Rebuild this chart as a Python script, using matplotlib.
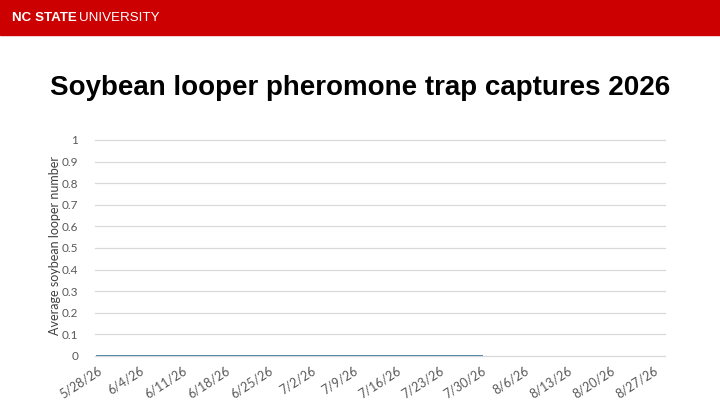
import matplotlib.pyplot as plt
import numpy as np

dates = ["5/28/26", "6/4/26", "6/11/26", "6/18/26", "6/25/26", "7/2/26", "7/9/26",
         "7/16/26", "7/23/26", "7/30/26", "8/6/26", "8/13/26", "8/20/26", "8/27/26"]
# avg loopers per trap, no data yet after 7/30
avg_loopers = [0, 0, 0, 0, 0, 0, 0, 0, 0, 0, np.nan, np.nan, np.nan, np.nan]
yticks = [0, 0.1, 0.2, 0.3, 0.4, 0.5, 0.6, 0.7, 0.8, 0.9, 1]

fig = plt.figure(figsize=(7.2, 4.05), dpi=100)

# red banner on top
fig.patches.append(plt.Rectangle((0, 1 - 35 / 405), 1, 35 / 405, transform=fig.transFigure,
                                 color="#CC0000", zorder=0))
t = fig.text(12 / 720, 1 - 18 / 405, "NC STATE", color="white", fontsize=9.6,
             fontweight="bold", family="Liberation Sans", va="center")
fig.canvas.draw()
bb = t.get_window_extent()
fig.text((bb.x1 + 2) / 720, 1 - 18 / 405, "UNIVERSITY", color="white", fontsize=9.6,
         family="Liberation Sans", va="center")

fig.text(0.5, 1 - 88 / 405, "Soybean looper pheromone trap captures 2026", ha="center",
         va="center", fontsize=20, fontweight="bold", family="Liberation Sans")

ax = fig.add_axes([95 / 720, 1 - 356 / 405, 570 / 720, 216 / 405])
x = np.arange(len(dates))
ax.plot(x, avg_loopers, color="#4f86a8", linewidth=1.4, zorder=3)

ax.set_xlim(-0.05, 13.28)
ax.set_ylim(0, 1)
ax.set_yticks(yticks)
ax.set_yticklabels([f"{v:g}" for v in yticks])
ax.set_xticks(x)
ax.set_xticklabels(dates, rotation=33, ha="right", rotation_mode="anchor")
ax.grid(axis="y", color="#d9d9d9", linewidth=0.9)
for gl in ax.get_ygridlines():
    gl.set_clip_on(False)
ax.set_axisbelow(True)
for s in ax.spines.values():
    s.set_visible(False)
ax.tick_params(axis="x", length=0, labelsize=9, labelcolor="#595959", pad=6)
ax.tick_params(axis="y", length=0, labelsize=8.5, labelcolor="#595959", pad=12)
for lab in ax.get_xticklabels() + ax.get_yticklabels():
    lab.set_family("Lato")
ax.set_ylabel("Average soybean looper number", fontsize=9, color="#404040",
              family="Lato")
ax.yaxis.set_label_coords(-0.06, 0.51)

fig.savefig("out.png", dpi=100)
